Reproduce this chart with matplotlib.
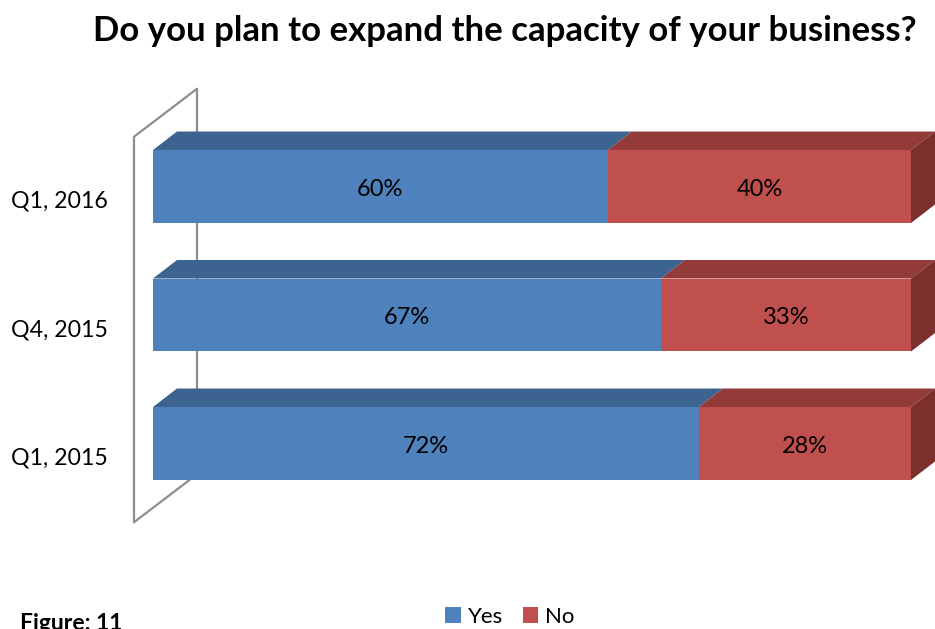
import numpy as np
import matplotlib
matplotlib.use("Agg")
import matplotlib.pyplot as plt
from matplotlib.patches import Polygon, Patch

plt.rcParams['font.family'] = ['Lato', 'DejaVu Sans']

# data
kategori = ["Q1, 2015", "Q4, 2015", "Q1, 2016"]
yes_vals = [72, 67, 60]
no_vals = [28, 33, 40]
seri = ["Yes", "No"]

warna_depan = {"Yes": "#4F81BD", "No": "#C0504D"}
warna_atas = {"Yes": "#3D6391", "No": "#933B39"}
warna_sisi = {"Yes": "#2F4D72", "No": "#7B302E"}

W, H = 935, 629
fig = plt.figure(figsize=(W / 100, H / 100), dpi=100)
ax = fig.add_axes([153 / W, (H - 507.75) / H, 758 / W, 385.5 / H])
ax.set_xlim(0, 100)
ax.set_ylim(-0.5, 2.5)
ax.axis("off")


def geser(px, py):
    # offset in pixels (py upward) -> offset in data units
    p0 = ax.transData.transform((0, 0))
    p = ax.transData.inverted().transform(p0 + np.array([px, py]))
    return p[0], p[1]


# depth offsets relative to bar front plane
bdx, bdy = geser(24, 18.5)        # bar back face
wfx, wfy = geser(-19, -14.5)      # wall front edge
wbx, wby = geser(44, 33.5)        # wall back edge

# side wall (outline only)
garis = dict(color="#8E8E8E", lw=1.6, zorder=1, solid_capstyle="round")
ax.plot([wfx, wfx], [-0.5 + wfy, 2.5 + wfy], clip_on=False, **garis)
ax.plot([wbx, wbx], [-0.5 + wby, 2.5 + wby], clip_on=False, **garis)
ax.plot([wfx, wbx], [2.5 + wfy, 2.5 + wby], clip_on=False, **garis)
ax.plot([wfx, wbx], [-0.5 + wfy, -0.5 + wby], clip_on=False, **garis)

tinggi = 0.284
for i, kat in enumerate(kategori):
    kiri = 0
    for s, nilai in zip(seri, [yes_vals[i], no_vals[i]]):
        x0, x1 = kiri, kiri + nilai
        y0, y1 = i - tinggi, i + tinggi
        # top face
        ax.add_patch(Polygon([(x0, y1), (x1, y1), (x1 + bdx, y1 + bdy), (x0 + bdx, y1 + bdy)],
                             closed=True, fc=warna_atas[s], ec="none", zorder=2, clip_on=False))
        # right side face (only visible for last segment)
        if s == seri[-1]:
            ax.add_patch(Polygon([(x1, y0), (x1, y1), (x1 + bdx, y1 + bdy), (x1 + bdx, y0 + bdy)],
                                 closed=True, fc=warna_sisi[s], ec="none", zorder=2, clip_on=False))
        # front face
        ax.add_patch(Polygon([(x0, y0), (x1, y0), (x1, y1), (x0, y1)],
                             closed=True, fc=warna_depan[s], ec="none", zorder=3, clip_on=False))
        ax.text((x0 + x1) / 2, i - 0.02, f"{nilai}%", ha="center", va="center",
                fontsize=17, color="black", zorder=4)
        kiri = x1

# category labels
lx, ly = geser(-45, -14.5)
for i, kat in enumerate(kategori):
    ax.text(lx, i + ly, kat, ha="right", va="center", fontsize=16.7, color="black")

fig.text(505 / W, 1 - 31 / H, "Do you plan to expand the capacity of your business?",
         ha="center", va="center", fontsize=25, fontweight="bold")

fig.text(20 / W, 1 - 624 / H, "Figure: 11", ha="left", va="center",
         fontsize=16.5, fontweight="bold")

handles = [Patch(facecolor=warna_depan[s], edgecolor="none", label=s) for s in seri]
fig.legend(handles=handles, loc="center", bbox_to_anchor=(510 / W, 1 - 617 / H),
           ncol=2, frameon=False, fontsize=16, handlelength=0.7, handleheight=0.7,
           handletextpad=0.3, columnspacing=0.9, borderpad=0)

fig.savefig("out.png", dpi=100)
